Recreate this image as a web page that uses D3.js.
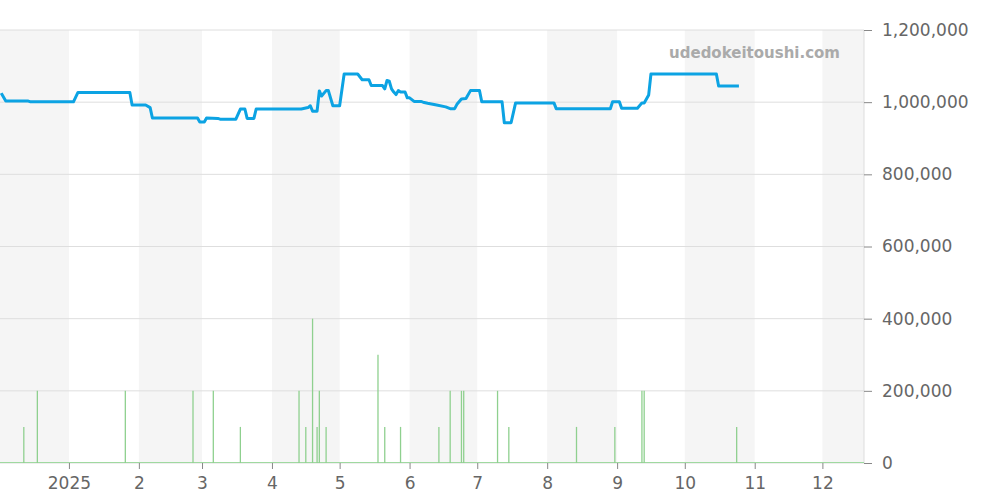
<!DOCTYPE html>
<html><head><meta charset="utf-8">
<script src="https://cdn.jsdelivr.net/npm/d3@7"></script>
<style>body{margin:0;background:#fff}svg text{font-family:"DejaVu Sans",sans-serif}</style>
</head><body><svg id="c" width="1000" height="500"></svg>
<script>
// days since 2025-01-01
var priceDays = [-30,-28,-18,-17,2,4,27,28,34,36,37,57,58,60,61,66,67,74,76,78,79,82,83,103,106,107,108,110,111,112,114,115,117,120,122,128,130,133,134,139,140,141,142,143,144,145,146,147,149,150,151,153,156,157,159,163,167,169,171,172,174,176,178,182,183,192,193,196,198,215,216,240,241,244,245,252,254,255,257,258,287,288,297];
var priceVals = [1025,1003,1003,1001,1001,1027,1027,992,992,985,956,956,945,945,956,955,953,953,981,981,955,955,981,981,985,990,975,975,1031,1017,1032,1032,990,990,1078,1078,1062,1062,1046,1046,1037,1060,1058,1037,1028,1021,1032,1028,1028,1012,1012,1002,1002,1000,997,992,987,982,982,994,1009,1010,1032,1032,1001,1001,943,943,998,998,982,982,1001,1001,983,983,998,998,1020,1078,1078,1045,1045];
var volDays = [-20,-14,25,55,64,76,102,105,108,110,111,114,137,140,147,164,169,174,175,190,195,225,242,254,255,296];
var volVals = [100,200,200,200,200,100,200,100,400,100,200,100,300,100,100,100,200,200,200,200,100,100,100,200,200,100];
var yTicks = [0,200000,400000,600000,800000,1000000,1200000];
var monthLabels = ["2025","2","3","4","5","6","7","8","9","10","11","12"];

var svg = d3.select("#c");
var t0 = new Date(2025,0,1);
var day = function(n){ return d3.timeDay.offset(t0, n); };
var x = d3.scaleTime().domain([new Date(2024,11,1), new Date(2025,11,19)]).range([-1, 863]);
var y = d3.scaleLinear().domain([0,1200000]).range([463,30]);

// alternating month bands
d3.range(-1, 12, 2).forEach(function(m){
  var a = Math.max(0, x(new Date(2025,m,1))), b = Math.min(864, x(new Date(2025,m+1,1)));
  svg.append("rect").attr("x",a).attr("y",30).attr("width",b-a).attr("height",433).attr("fill","#f5f5f5");
});

svg.selectAll(".grid").data(yTicks).enter().append("line")
  .attr("x1",0).attr("x2",864).attr("y1",d=>y(d)).attr("y2",d=>y(d))
  .attr("stroke","#dedede").attr("stroke-width",1);
svg.append("line").attr("x1",864).attr("x2",864).attr("y1",30).attr("y2",463).attr("stroke","#ddd");

var ya = svg.append("g").attr("transform","translate(864,0)")
  .call(d3.axisRight(y).tickValues(yTicks).tickSize(8).tickPadding(10).tickFormat(d3.format(",")));
ya.attr("font-family",null);
ya.select(".domain").remove();
ya.selectAll("line").attr("stroke","#888");
ya.selectAll("text").attr("fill","#666").attr("font-size",17);

var months = d3.range(0,12).map(m => new Date(2025,m,1));
var xa = svg.append("g").attr("transform","translate(0,463)")
  .call(d3.axisBottom(x).tickValues(months).tickSize(6).tickPadding(8).tickFormat((d,i)=>monthLabels[i]));
xa.attr("font-family",null);
xa.select(".domain").remove();
xa.selectAll("line").attr("stroke","#888");
xa.selectAll("text").attr("fill","#666").attr("font-size",17);

// volume
svg.append("line").attr("x1",0).attr("x2",864).attr("y1",462.5).attr("y2",462.5).attr("stroke","#9fd9a0").attr("stroke-width",1);
svg.selectAll(".vol").data(volDays).enter().append("line")
  .attr("x1",d=>x(day(d))).attr("x2",d=>x(day(d)))
  .attr("y1",463).attr("y2",(d,i)=>y(volVals[i]*1000))
  .attr("stroke","#8fd08f").attr("stroke-width",1.3);

// price
var pts = priceDays.map((d,i)=>[day(d), priceVals[i]*1000]);
svg.append("path").datum(pts)
  .attr("d", d3.line().x(d=>x(d[0])).y(d=>y(d[1])))
  .attr("fill","none").attr("stroke","#0ca3e3").attr("stroke-width",3).attr("stroke-linejoin","round");

svg.append("text").attr("x",840).attr("y",58).attr("text-anchor","end")
  .attr("font-size",15).attr("font-weight","bold").attr("fill","#aaa").text("udedokeitoushi.com");
</script></body></html>
